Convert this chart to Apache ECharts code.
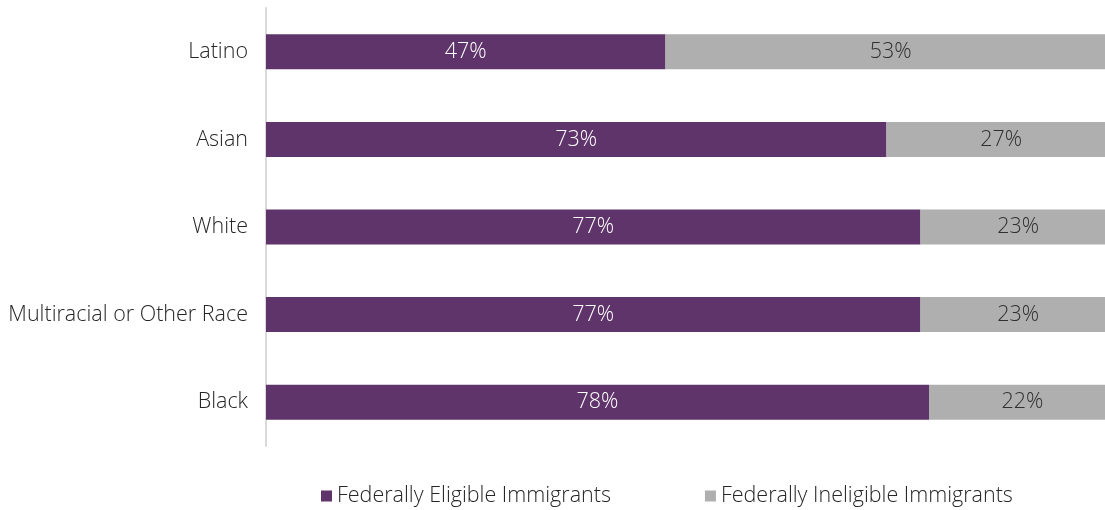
<!DOCTYPE html>
<html>
<head>
<meta charset="utf-8">
<script src="https://cdn.jsdelivr.net/npm/echarts@6/dist/echarts.min.js"></script>
<style>
  html, body { margin: 0; padding: 0; background: #ffffff; overflow: hidden; }
  #chart { width: 1105px; height: 510px; }
</style>
</head>
<body>
<div id="chart"></div>
<script>
// Share of immigrants by race/ethnicity and federal eligibility (percent)
const categories = ['Latino', 'Asian', 'White', 'Multiracial or Other Race', 'Black'];
const eligible = [47, 73, 77, 77, 78];
const ineligible = [53, 27, 23, 23, 22];
const seriesNames = ['Federally Eligible Immigrants', 'Federally Ineligible Immigrants'];

const FONT = '"Open Sans", "Noto Sans", sans-serif';
const FS = 21.5;

const chart = echarts.init(document.getElementById('chart'), null, { renderer: 'canvas' });

chart.setOption({
  backgroundColor: '#ffffff',
  animation: false,
  // the plot runs slightly past the right edge of the canvas, so the 100% end is cut off
  grid: { left: 266, width: 850, top: 8, bottom: 64, containLabel: false, outerBoundsMode: 'none' },
  xAxis: {
    type: 'value',
    min: 0,
    max: 100,
    show: false
  },
  yAxis: {
    type: 'category',
    data: categories,
    inverse: true,
    axisLine: { show: true, lineStyle: { color: '#d9d9d9', width: 2 } },
    axisTick: { show: false },
    axisLabel: {
      margin: 18,
      fontFamily: FONT,
      fontWeight: 300,
      fontSize: FS,
      color: '#262626'
    }
  },
  legend: {
    top: 480,
    left: 316,
    itemGap: 94,
    itemWidth: 11,
    itemHeight: 11,
    icon: 'rect',
    textStyle: { fontFamily: FONT, fontWeight: 300, fontSize: FS, color: '#262626' },
    data: seriesNames
  },
  series: [
    {
      name: seriesNames[0],
      type: 'bar',
      stack: 'total',
      barCategoryGap: '60%',
      data: eligible,
      itemStyle: { color: '#5e346a' },
      label: {
        show: true,
        position: 'inside',
        formatter: p => p.value + '%',
        fontFamily: FONT,
        fontWeight: 300,
        fontSize: FS,
        color: '#ffffff'
      }
    },
    {
      name: seriesNames[1],
      type: 'bar',
      stack: 'total',
      barCategoryGap: '60%',
      data: ineligible,
      itemStyle: { color: '#afafaf' },
      label: {
        show: true,
        position: 'inside',
        formatter: p => p.value + '%',
        fontFamily: FONT,
        fontWeight: 300,
        fontSize: FS,
        color: '#303030'
      }
    }
  ]
});
</script>
</body>
</html>
